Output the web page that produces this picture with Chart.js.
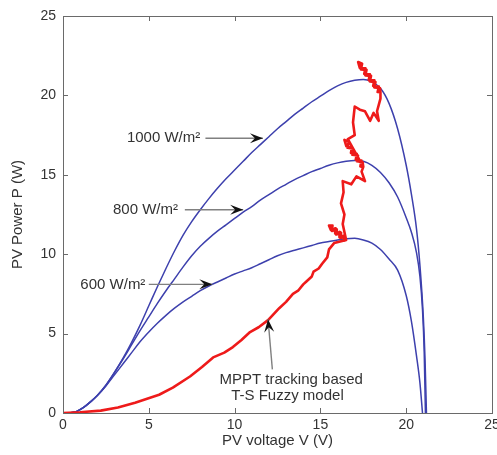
<!DOCTYPE html>
<html>
<head>
<meta charset="utf-8">
<script src="https://cdn.jsdelivr.net/npm/chart.js@4"></script>
<style>
  html, body { margin: 0; padding: 0; background: #fff; }
  #wrap { width: 497px; height: 455px; }
</style>
</head>
<body>
<div id="wrap"><canvas id="pvChart" width="497" height="455"></canvas></div>
<script>
// P-V curves at three irradiance levels (voltage V, power W)
const v1000 = [0.4, 0.8, 1.2, 1.6, 2.0, 2.5, 3.0, 3.5, 4.0, 4.5, 5.0, 5.5, 6.0, 6.5, 7.0, 7.5, 8.0, 8.5, 9.0, 9.5, 10.0, 10.5, 11.0, 11.5, 12.0, 12.5, 13.0, 13.5, 14.0, 14.5, 15.0, 15.5, 16.0, 16.5, 17.0, 17.5, 18.0, 18.5, 19.0, 19.5, 20.0, 20.3, 20.6, 20.8, 21.0, 21.1, 21.18];
const p1000 = [0, 0.1, 0.35, 0.7, 1.1, 1.75, 2.55, 3.45, 4.45, 5.55, 6.75, 7.95, 9.1, 10.2, 11.2, 12.05, 12.8, 13.5, 14.15, 14.75, 15.3, 15.85, 16.4, 16.9, 17.4, 17.9, 18.35, 18.8, 19.2, 19.6, 19.95, 20.3, 20.6, 20.82, 20.95, 21.0, 20.85, 20.45, 19.5, 17.9, 15.6, 13.8, 11.6, 9.3, 6.0, 3.3, 0];

const v800 = [0.4, 0.8, 1.2, 1.6, 2.0, 2.5, 3.0, 3.5, 4.0, 4.5, 5.0, 5.5, 6.0, 6.5, 7.0, 7.5, 8.0, 8.5, 9.0, 9.5, 10.0, 10.5, 11.0, 11.5, 12.0, 12.5, 13.0, 13.5, 14.0, 14.5, 15.0, 15.5, 16.0, 16.5, 17.0, 17.5, 18.0, 18.5, 19.0, 19.5, 20.0, 20.3, 20.6, 20.8, 20.95, 21.05, 21.12];
const p800 = [0, 0.1, 0.35, 0.7, 1.1, 1.75, 2.55, 3.4, 4.3, 5.2, 6.05, 6.9, 7.7, 8.45, 9.2, 9.9, 10.5, 11.0, 11.45, 11.85, 12.25, 12.65, 13.0, 13.4, 13.75, 14.1, 14.4, 14.7, 14.95, 15.2, 15.4, 15.6, 15.75, 15.85, 15.9, 15.85, 15.6, 15.15, 14.5, 13.6, 12.3, 11.4, 10.1, 8.6, 6.5, 3.8, 0];

const v600 = [0.4, 0.8, 1.2, 1.6, 2.0, 2.5, 3.0, 3.5, 4.0, 4.5, 5.0, 5.5, 6.0, 6.5, 7.0, 7.5, 8.0, 8.5, 9.0, 9.5, 10.0, 10.5, 11.0, 11.5, 12.0, 12.5, 13.0, 13.5, 14.0, 14.5, 15.0, 15.5, 16.0, 16.5, 17.0, 17.5, 18.0, 18.5, 19.0, 19.5, 20.0, 20.3, 20.6, 20.8, 20.95];
const p600 = [0, 0.1, 0.35, 0.7, 1.1, 1.7, 2.4, 3.1, 3.8, 4.5, 5.1, 5.65, 6.15, 6.6, 7.0, 7.35, 7.7, 8.0, 8.25, 8.5, 8.75, 8.95, 9.15, 9.4, 9.65, 9.9, 10.1, 10.25, 10.4, 10.55, 10.7, 10.8, 10.9, 10.97, 11.0, 10.9, 10.7, 10.3, 9.7, 9.0, 7.4, 5.8, 3.6, 1.9, 0];

// MPPT (T-S fuzzy) operating point trajectory
const vTrack = [0, 1.0, 2.2, 3.2, 4.2, 4.9, 5.6, 6.4, 7.4, 8.1, 8.75, 9.4, 9.9, 10.4, 10.9, 11.4, 11.95, 12.6, 13.0, 13.4, 13.7, 14.0, 14.2, 14.5, 14.6, 14.9, 15.1, 15.4, 15.5, 15.8,
  16.5, 16.455, 16.17, 16.205, 15.92, 15.955, 15.67, 15.705, 15.5, 15.61, 15.89, 15.86, 16.14, 16.11, 16.39, 16.36, 16.5,
  16.3, 16.4, 16.2, 16.35, 16.3, 16.8, 17.1, 17.6, 17.4,
  17.5, 17.46, 17.13, 17.19, 16.85, 16.91, 16.58, 16.64, 16.4, 16.51, 16.84, 16.78, 17.12, 17.06, 17.39, 17.33, 17.5, 16.6,
  17.0, 16.9, 17.0, 17.3, 17.6, 17.9, 18.1, 18.4, 18.3, 18.5,
  18.5, 18.47, 18.14, 18.21, 17.88, 17.95, 17.62, 17.69, 17.36, 17.43, 17.2, 17.295, 17.625, 17.555, 17.885, 17.815, 18.145, 18.075, 18.405, 18.335, 18.5];
const pTrack = [0, 0.05, 0.15, 0.35, 0.65, 0.9, 1.15, 1.6, 2.3, 2.9, 3.5, 3.8, 4.15, 4.6, 5.1, 5.4, 5.85, 6.6, 7.0, 7.5, 7.7, 8.1, 8.3, 8.6, 8.9, 9.1, 9.4, 9.8, 10.3, 10.7,
  10.9, 11.12, 11.015, 11.35, 11.24, 11.57, 11.465, 11.8, 11.8, 11.52, 11.63, 11.3, 11.4, 11.07, 11.18, 10.85, 10.9,
  11.9, 12.5, 13.2, 13.9, 14.6, 14.4, 14.9, 14.6, 15.2,
  15.5, 15.79, 15.85, 16.22, 16.27, 16.64, 16.7, 17.07, 17.2, 16.8, 16.75, 16.38, 16.32, 15.95, 15.9, 15.53, 15.5, 17.25,
  17.5, 18.3, 19.3, 19.1, 19.0, 18.4, 18.9, 18.4, 19.0, 19.8,
  20.2, 20.47, 20.5, 20.85, 20.88, 21.23, 21.26, 21.61, 21.64, 21.99, 22.1, 21.735, 21.705, 21.355, 21.325, 20.975, 20.945, 20.595, 20.565, 20.215, 20.2];

const xTicks = [0, 5, 10, 15, 20, 25];
const yTicks = [0, 5, 10, 15, 20, 25];

const FONT = "'Liberation Sans', Arial, sans-serif";

function pts(vs, ps) {
    return vs.map((v, i) => ({ x: v, y: ps[i] }));
}

function drawArrow(ctx, x0, y0, x1, y1) {
    ctx.strokeStyle = '#808080';
    ctx.lineWidth = 1.4;
    ctx.beginPath();
    ctx.moveTo(x0, y0);
    ctx.lineTo(x1, y1);
    ctx.stroke();
    const ang = Math.atan2(y1 - y0, x1 - x0);
    ctx.save();
    ctx.translate(x1, y1);
    ctx.rotate(ang);
    ctx.fillStyle = '#111';
    ctx.beginPath();
    ctx.moveTo(0, 0);
    ctx.lineTo(-13, -5);
    ctx.lineTo(-8, 0);
    ctx.lineTo(-13, 5);
    ctx.closePath();
    ctx.fill();
    ctx.restore();
}

// box, inward ticks on all four sides, and the text annotations
const framePlugin = {
    id: 'frame',
    afterDatasetsDraw(chart) {
        const { ctx, chartArea: a, scales: { x, y } } = chart;
        ctx.save();
        ctx.strokeStyle = '#6a6a6a';
        ctx.lineWidth = 1;
        ctx.strokeRect(Math.round(a.left) + 0.5, Math.round(a.top) + 0.5, Math.round(a.width), Math.round(a.height));
        ctx.beginPath();
        xTicks.forEach(t => {
            const px = Math.round(x.getPixelForValue(t)) + 0.5;
            ctx.moveTo(px, a.bottom); ctx.lineTo(px, a.bottom - 5);
            ctx.moveTo(px, a.top); ctx.lineTo(px, a.top + 5);
        });
        yTicks.forEach(t => {
            const py = Math.round(y.getPixelForValue(t)) + 0.5;
            ctx.moveTo(a.left, py); ctx.lineTo(a.left + 5, py);
            ctx.moveTo(a.right, py); ctx.lineTo(a.right - 5, py);
        });
        ctx.stroke();

        // annotations (data coordinates)
        const notes = [
            { text: '1000 W/m\u00b2', tx: 8.0, ty: 17.3, ax: 8.3, bx: 11.65 },
            { text: '800 W/m\u00b2', tx: 6.7, ty: 12.8, ax: 7.1, bx: 10.5 },
            { text: '600 W/m\u00b2', tx: 4.8, ty: 8.1, ax: 5.0, bx: 8.7 }
        ];
        ctx.font = '15px ' + FONT;
        ctx.fillStyle = '#333';
        ctx.textBaseline = 'middle';
        notes.forEach(n => {
            const py = y.getPixelForValue(n.ty);
            ctx.textAlign = 'right';
            ctx.fillText(n.text, x.getPixelForValue(n.tx), py);
            drawArrow(ctx, x.getPixelForValue(n.ax), py, x.getPixelForValue(n.bx), py);
        });
        ctx.fillStyle = '#333';
        ctx.textAlign = 'center';
        ctx.fillText('MPPT tracking based', x.getPixelForValue(13.3), y.getPixelForValue(2.08));
        ctx.fillText('T-S Fuzzy model', x.getPixelForValue(13.08), y.getPixelForValue(1.1));
        drawArrow(ctx, x.getPixelForValue(12.2), y.getPixelForValue(2.75), x.getPixelForValue(11.95), y.getPixelForValue(5.9));
        ctx.restore();
    }
};

document.addEventListener('DOMContentLoaded', () => {
    const ctx = document.getElementById('pvChart').getContext('2d');
    const blue = '#3d40ad';
    new Chart(ctx, {
        type: 'line',
        data: {
            datasets: [
                {
                    label: 'MPPT',
                    data: pts(vTrack, pTrack),
                    borderColor: '#ee1a1a',
                    borderWidth: 2.6,
                    pointRadius: 0,
                    tension: 0,
                    borderJoinStyle: 'round',
                    order: 0
                },
                {
                    label: '1000 W/m2',
                    data: pts(v1000, p1000),
                    borderColor: blue,
                    borderWidth: 1.5,
                    pointRadius: 0,
                    cubicInterpolationMode: 'monotone',
                    order: 1
                },
                {
                    label: '800 W/m2',
                    data: pts(v800, p800),
                    borderColor: blue,
                    borderWidth: 1.5,
                    pointRadius: 0,
                    cubicInterpolationMode: 'monotone',
                    order: 1
                },
                {
                    label: '600 W/m2',
                    data: pts(v600, p600),
                    borderColor: blue,
                    borderWidth: 1.5,
                    pointRadius: 0,
                    cubicInterpolationMode: 'monotone',
                    order: 1
                }
            ]
        },
        options: {
            responsive: false,
            animation: false,
            events: [],
            layout: { padding: { top: 16, right: 5, left: 0, bottom: 0 } },
            plugins: {
                legend: { display: false },
                tooltip: { enabled: false }
            },
            scales: {
                x: {
                    type: 'linear',
                    min: 0,
                    max: 25,
                    grid: { display: false, drawTicks: false },
                    border: { display: false },
                    afterBuildTicks: s => { s.ticks = xTicks.map(v => ({ value: v })); },
                    afterFit: s => { s.height = 42; s.paddingLeft = 0; s.paddingRight = 0; },
                    ticks: { color: '#333', font: { family: FONT, size: 14 }, padding: 4, maxRotation: 0 },
                    title: { display: true, text: 'PV voltage V (V)', color: '#333', font: { family: FONT, size: 15 }, padding: { top: 5, bottom: 5 } }
                },
                y: {
                    type: 'linear',
                    min: 0,
                    max: 25,
                    grid: { display: false, drawTicks: false },
                    border: { display: false },
                    afterBuildTicks: s => { s.ticks = yTicks.map(v => ({ value: v })); },
                    afterFit: s => { s.width = 63; },
                    ticks: { color: '#333', font: { family: FONT, size: 14 }, padding: 7 },
                    title: { display: true, text: 'PV Power P (W)', color: '#333', font: { family: FONT, size: 15 }, padding: { top: 9, bottom: 9 } }
                }
            }
        },
        plugins: [framePlugin]
    });
});
</script>
</body>
</html>
